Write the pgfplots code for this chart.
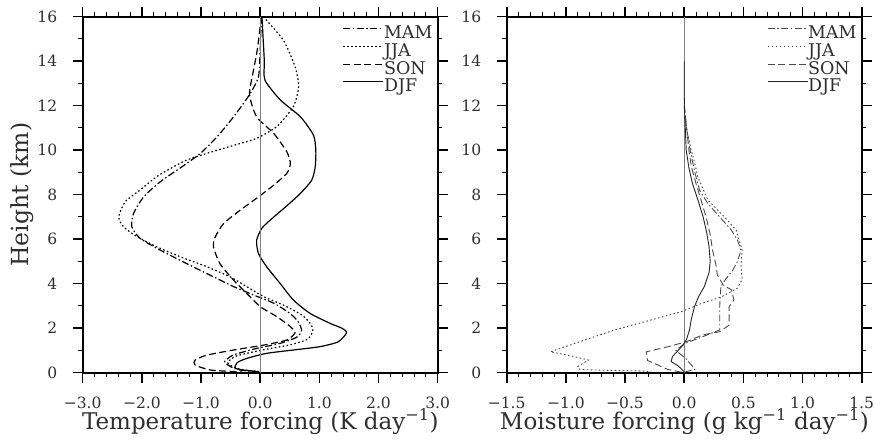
\documentclass[border=0pt]{standalone}
\usepackage{fontspec}
\setmainfont{DejaVu Serif}
\usepackage{pgfplots}
\pgfplotsset{compat=1.18}
\definecolor{rgray}{HTML}{4A4A4A}
\definecolor{txt}{HTML}{2E2E2E}
\begin{document}
\begin{tikzpicture}
\pgfplotsset{
  base/.style={
    scale only axis, width=355pt, height=356pt,
    ymin=0, ymax=16, ytick={0,2,...,16}, yticklabels={0,2,4,6,8,10,12,14,16},
    minor y tick num=1,
    tick align=outside, tick pos=both, ticklabel pos=left,
    major tick length=10pt, minor tick length=4.5pt,
    axis line style={line width=2pt},
    major tick style={line width=1.6pt,black},
    minor tick style={line width=0.9pt,black},
    tick label style={font=\fontsize{15.5}{18}\selectfont, text=txt},
    xticklabel style={yshift=-10.5pt},
    yticklabel style={xshift=-12pt},
    legend style={at={(1,1)}, anchor=north east, xshift=-5pt, yshift=-9pt,
      draw=none, fill=none, inner sep=0pt, row sep=0pt,
      font=\fontsize{17.5}{18}\selectfont, text=txt,
      nodes={inner sep=0pt, text height=13pt, text depth=4.7pt},
      /tikz/every even column/.style={column sep=0pt}},
    legend cell align=left,
    legend image code/.code={\draw[##1] (0pt,6pt)--(40pt,6pt);},
  },
  son/.style={dash pattern=on 7pt off 3.5pt},
  jja/.style={dash pattern=on 1.6pt off 2.4pt},
  mam/.style={dash pattern=on 7pt off 2.5pt on 1.5pt off 2.5pt},
}
\path[use as bounding box] (-82.7pt,-70.3pt) rectangle (792.3pt,372.7pt);

% ---------------- left panel ----------------
\begin{axis}[base, at={(0pt,0pt)}, anchor=south west,
  xmin=-3, xmax=3, xtick={-3,-2,-1,0,1,2,3},
  xticklabels={−3.0,−2.0,−1.0,0.0,1.0,2.0,3.0},
  minor x tick num=4]
\addplot[black, line width=1.2pt, mam, smooth, tension=0.4] coordinates {
(0.02,16) (0.0,14.5) (-0.03,13.3) (-0.18,12.5) (-0.45,11.5) (-0.73,10.6)
(-1.01,9.86) (-1.32,9.26) (-1.69,8.58) (-1.97,7.9) (-2.14,7.16) (-2.17,6.56)
(-2.03,6.04) (-1.69,5.51) (-1.24,4.9) (-0.79,4.31) (-0.45,3.87) (-0.11,3.49)
(0.23,3.12) (0.5,2.67) (0.64,2.3) (0.70,1.9) (0.62,1.6) (0.34,1.32) (-0.06,1.09)
(-0.45,0.8) (-0.6,0.5) (-0.5,0.27) (-0.34,0.12) (-0.1,0.05)};
\addlegendentry{MAM}
\addplot[black, line width=1.2pt, jja, smooth, tension=0.4] coordinates {
(0.05,16) (0.39,14.95) (0.59,13.75) (0.65,12.85) (0.56,11.96) (0.28,11.06)
(-0.06,10.53) (-0.34,10.3) (-0.9,9.86) (-1.24,9.56) (-1.46,9.26) (-1.75,8.81)
(-2.03,8.21) (-2.28,7.69) (-2.39,7.01) (-2.31,6.56) (-2.08,6.11) (-1.75,5.66)
(-1.35,5.21) (-0.9,4.76) (-0.51,4.31) (-0.23,3.87) (0.06,3.42) (0.39,3.04)
(0.7,2.6) (0.85,2.2) (0.89,1.9) (0.8,1.5) (0.5,1.25) (0.0,1.0) (-0.4,0.75)
(-0.55,0.45) (-0.4,0.2) (-0.2,0.1) (0.0,0.05)};
\addlegendentry{JJA}
\addplot[black, line width=1.2pt, son, smooth, tension=0.4] coordinates {
(0.02,16) (-0.05,14.5) (-0.12,13.5) (-0.18,12.5) (-0.06,11.5) (0.23,10.75)
(0.45,9.93) (0.51,9.4) (0.45,8.96) (0.23,8.43) (-0.03,7.9) (-0.34,7.3)
(-0.62,6.7) (-0.76,6.1) (-0.79,5.66) (-0.68,4.9) (-0.45,4.16) (-0.23,3.57)
(0.0,2.97) (0.28,2.52) (0.51,2.07) (0.59,1.8) (0.45,1.47) (0.06,1.24)
(-0.45,1.02) (-0.9,0.79) (-1.1,0.57) (-1.1,0.34) (-0.84,0.12) (-0.5,0.06) (-0.3,0.03)};
\addlegendentry{SON}
\addplot[black, line width=1.2pt, solid, smooth, tension=0.4] coordinates {
(0.03,16) (0.05,15) (0.07,14) (0.08,13.15) (0.34,12.26) (0.68,11.5) (0.9,10.68)
(0.94,10) (0.93,9.25) (0.87,8.65) (0.68,8.06) (0.45,7.5) (0.23,7.0) (0.03,6.5)
(-0.06,5.95) (-0.03,5.36) (0.11,4.76) (0.34,4.0) (0.56,3.27) (0.84,2.67)
(1.18,2.22) (1.38,2.0) (1.46,1.8) (1.32,1.39) (1.01,1.17) (0.56,1.02) (0.11,0.87)
(-0.23,0.64) (-0.39,0.45) (-0.42,0.2) (-0.23,0.1) (-0.03,0.05)};
\addlegendentry{DJF}
\addplot[gray, line width=0.8pt, forget plot] coordinates {(0,0) (0,16)};
\end{axis}

% ---------------- right panel ----------------
\begin{axis}[base, at={(424pt,0pt)}, anchor=south west,
  xmin=-1.5, xmax=1.5, xtick={-1.5,-1,-0.5,0,0.5,1,1.5},
  xticklabels={−1.5,−1.0,−0.5,0.0,0.5,1.0,1.5},
  minor x tick num=4]
\addplot[gray, line width=0.8pt, forget plot] coordinates {(0,0) (0,16)};
\addplot[rgray, line width=0.9pt, mam] coordinates {
(0,12) (0.02,11) (0.05,10) (0.09,9) (0.13,8.2) (0.2,7.6) (0.30,7.0) (0.40,6.4)
(0.45,5.96) (0.48,5.5) (0.45,5.0) (0.41,4.6) (0.35,4.2) (0.31,3.87) (0.30,3.0)
(0.30,1.92) (0.157,1.62) (0,1.3) (-0.07,1.0) (0.02,0.6) (0.06,0.35) (0.09,0.15) (0.0,0.02)};
\addlegendentry{MAM}
\addplot[rgray, line width=0.9pt, jja] coordinates {
(0,11.5) (0.03,10.7) (0.06,10) (0.09,9.4) (0.115,8.8) (0.2,7.76) (0.34,7.0)
(0.44,6.4) (0.49,5.5) (0.48,4.76) (0.49,4.2) (0.45,3.8) (0.31,3.4) (0.14,3.1)
(-0.025,2.74) (-0.28,2.37) (-0.59,1.92) (-0.84,1.47) (-1.13,0.94) (-0.95,0.75)
(-0.81,0.57) (-0.9,0.27) (-0.88,0.14) (-0.6,0.1) (-0.36,0.08) (-0.28,0.04)};
\addlegendentry{JJA}
\addplot[rgray, line width=0.9pt, son] coordinates {
(0,12) (0.02,11) (0.04,10) (0.06,9.26) (0.1,8.5) (0.14,7.8) (0.185,7.0) (0.22,6.2)
(0.24,5.5) (0.27,4.8) (0.28,4.4) (0.33,3.94) (0.40,3.72) (0.42,3.27) (0.38,2.97)
(0.38,2.14) (0.30,1.84) (0.157,1.7) (0.017,1.39) (-0.15,1.15) (-0.32,0.94)
(-0.31,0.55) (-0.14,0.15) (-0.02,0.02)};
\addlegendentry{SON}
\addplot[black!85, line width=0.9pt, solid] coordinates {
(0,14) (0,12.5) (0.005,11.5) (0.017,10.0) (0.04,9.2) (0.07,8.5) (0.12,7.7)
(0.16,7.0) (0.19,6.3) (0.21,5.66) (0.22,5.0) (0.21,4.5) (0.17,3.87) (0.12,3.4)
(0.087,2.97) (0.06,2.4) (0.045,1.92) (0.02,1.5) (-0.01,1.24) (-0.06,0.95)
(-0.1,0.72) (-0.11,0.5) (-0.05,0.3) (0,0.05)};
\addlegendentry{DJF}
\end{axis}

% axis labels
\node[rotate=90, font=\fontsize{23.5}{28}\selectfont, text=txt, anchor=center] at (-60.2pt,178pt) {Height (km)};
\node[font=\fontsize{23}{28}\selectfont, text=txt, anchor=base] at (177.6pt,-57pt) {Temperature forcing (K day\textsuperscript{−1})};
\node[font=\fontsize{23}{28}\selectfont, text=txt, anchor=base] at (601.7pt,-57pt) {Moisture forcing (g kg\textsuperscript{−1} day\textsuperscript{−1})};
\end{tikzpicture}
\end{document}
